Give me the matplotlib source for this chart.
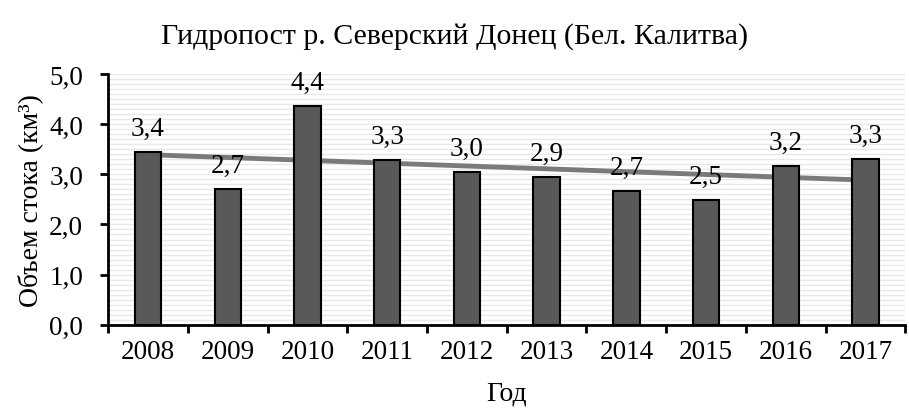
import numpy as np
import matplotlib
matplotlib.use('Agg')
import matplotlib.pyplot as plt
from matplotlib.ticker import MultipleLocator, FuncFormatter

plt.rcParams['font.family'] = ['Liberation Serif', 'DejaVu Serif']

years = ['2008', '2009', '2010', '2011', '2012', '2013', '2014', '2015', '2016', '2017']
volume = [3.44, 2.70, 4.36, 3.28, 3.04, 2.94, 2.66, 2.48, 3.16, 3.31]

fig = plt.figure(figsize=(9.09, 4.14), dpi=100)
ax = fig.add_axes([0.119, 0.213, 0.877, 0.606])

x = np.arange(len(years))

# linear trend over the years
k, b = np.polyfit(x, volume, 1)
ax.plot(x, k * x + b, color='#7a7a7a', lw=3.5, zorder=2, solid_capstyle='butt')

ax.bar(x, volume, width=0.33, color='#595959', edgecolor='black', linewidth=1.5, zorder=3)

for xi, v in zip(x, volume):
    ax.annotate(f'{v:.1f}'.replace('.', ','), (xi, v), xytext=(0, 8),
                textcoords='offset points', ha='center', va='bottom', fontsize=19.5, zorder=4)

ax.set_xlim(-0.5, len(years) - 0.5)
ax.set_ylim(0, 5)

# ticks on category boundaries, labels in the middle
ax.set_xticks(np.arange(-0.5, len(years), 1.0))
ax.set_xticklabels([])
ax.set_xticks(x, minor=True)
ax.set_xticklabels(years, minor=True)
ax.tick_params(axis='x', which='major', direction='out', length=6, width=2)
ax.tick_params(axis='x', which='minor', length=0, pad=10, labelsize=19.5)

ax.yaxis.set_major_locator(MultipleLocator(1.0))
ax.yaxis.set_minor_locator(MultipleLocator(0.1))
ax.yaxis.set_major_formatter(FuncFormatter(lambda v, p: f'{v:.1f}'.replace('.', ',')))
ax.tick_params(axis='y', which='major', direction='out', length=6, width=2, labelsize=19.5, pad=12)
ax.tick_params(axis='y', which='minor', length=0)
ax.grid(axis='y', which='both', color='#e8e8e8', lw=1, zorder=0)
ax.set_axisbelow(True)

for s in ['top', 'right']:
    ax.spines[s].set_visible(False)
for s in ['left', 'bottom']:
    ax.spines[s].set_linewidth(2)
    ax.spines[s].set_zorder(5)

ax.set_ylabel('Объем стока (км³)', fontsize=20, labelpad=4)
ax.set_xlabel('Год', fontsize=20, labelpad=12)
fig.suptitle('Гидропост р. Северский Донец (Бел. Калитва)', fontsize=21.5, y=0.945)

fig.savefig('out.png', dpi=100)
